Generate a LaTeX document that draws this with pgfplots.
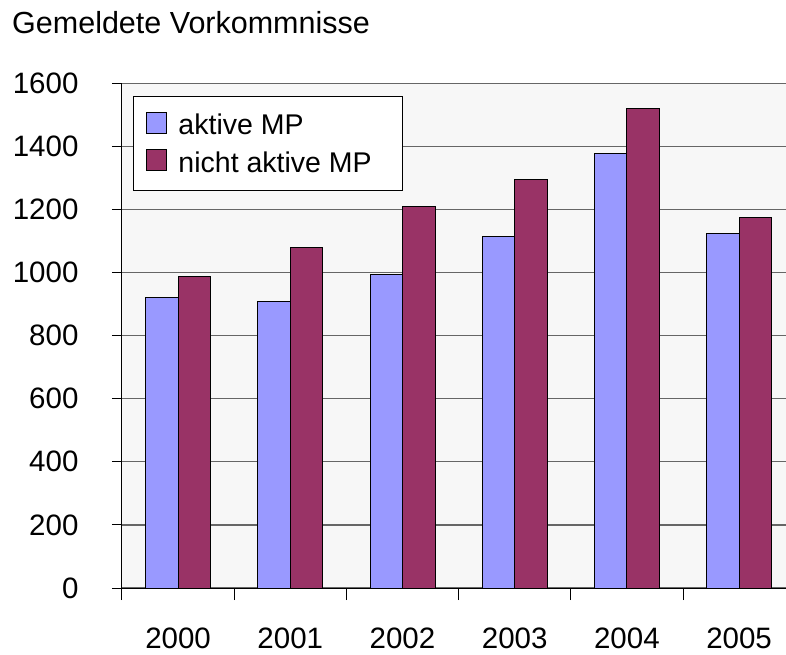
\documentclass[border=0pt]{standalone}
\usepackage{fontspec}
\setmainfont{Liberation Sans}
\usepackage{pgfplots}
\pgfplotsset{compat=1.18}
\definecolor{aktiv}{HTML}{9999FF}
\definecolor{nicht}{HTML}{993366}
\definecolor{plotbg}{HTML}{F7F7F7}
\begin{document}
\begin{tikzpicture}
\begin{axis}[name=ax, scale only axis, width=664pt, height=504.7pt,
  xmin=-0.5, xmax=5.418, ymin=0, ymax=1600,
  ybar=0pt, bar width=32.5pt,
  axis x line*=bottom, axis y line*=left,
  axis line style={black, line width=1pt, -},
  axis background/.style={fill=plotbg},
  ytick={0,200,...,1600}, ymajorgrids,
  major grid style={black!60, line width=1.2pt},
  xtick={0,1,2,3,4,5}, xticklabels={2000,2001,2002,2003,2004,2005},
  major x tick style={draw=none},
  minor xtick={-0.5,0.5,1.5,2.5,3.5,4.5,5.5},
  minor x tick style={black, line width=1pt},
  major y tick style={black, line width=1pt},
  tick align=outside, major tick length=10pt, minor tick length=12pt,
  /pgf/number format/assume math mode=true,
  /pgf/number format/1000 sep={},
  ticklabel style={font=\fontsize{29.5}{34}\selectfont},
  yticklabel style={xshift=-30pt},
  xticklabel style={yshift=-26pt},
  legend style={at={(axis description cs:0,1)}, anchor=north west,
    xshift=11pt, yshift=-13pt, draw=black, line width=1pt, fill=white,
    font=\fontsize{28.5}{32}\selectfont, inner xsep=13pt, inner ysep=15pt,
    row sep=11pt},
  legend cell align=left,
]
\addplot[fill=aktiv, draw=black, line width=1pt,
  legend image code/.code={\draw[fill=aktiv, draw=black, line width=1pt] (0pt,-8pt) rectangle (20pt,13pt); \path (29pt,0pt);}]
  coordinates {(0,922) (1,908) (2,993) (3,1115) (4,1376) (5,1124)};
\addplot[fill=nicht, draw=black, line width=1pt,
  legend image code/.code={\draw[fill=nicht, draw=black, line width=1pt] (0pt,-8pt) rectangle (20pt,13pt); \path (29pt,0pt);}]
  coordinates {(0,986) (1,1080) (2,1210) (3,1296) (4,1520) (5,1173)};
\legend{aktive MP, nicht aktive MP\rule{16pt}{0pt}}
\end{axis}
\node[anchor=base west, font=\fontsize{30.5}{34}\selectfont, inner sep=0pt]
  at ([xshift=-110pt, yshift=50pt]ax.north west) {Gemeldete Vorkommnisse};
\pgfresetboundingbox
\useasboundingbox ([xshift=-122pt,yshift=-67pt]ax.south west) rectangle ([yshift=83.3pt]ax.north east);
\end{tikzpicture}
\end{document}
